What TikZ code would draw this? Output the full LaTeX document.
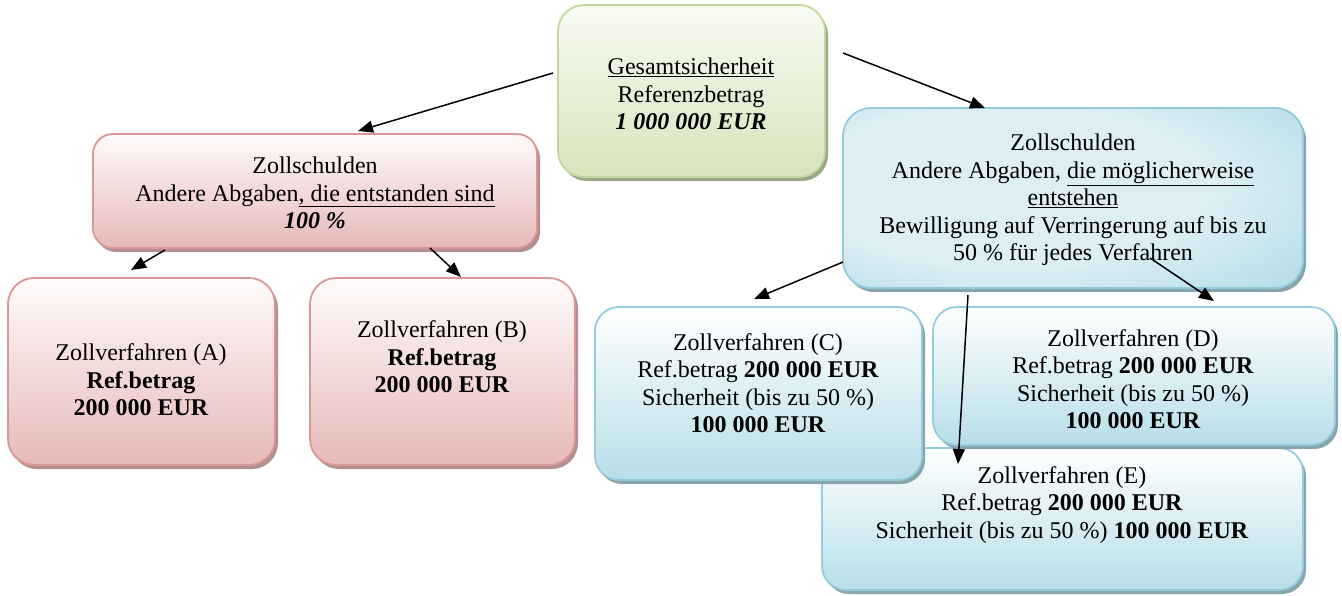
\documentclass[tikz,border=0pt]{standalone}
\usepackage{fontspec}
\setmainfont{Liberation Serif}
\usetikzlibrary{shadows,arrows.meta}
\definecolor{pinkDraw}{HTML}{D99694}
\definecolor{pinkTop}{HTML}{FFFBFB}
\definecolor{pinkBot}{HTML}{E6B9B8}
\definecolor{pinkSh}{HTML}{B09090}
\definecolor{greenDraw}{HTML}{C3D69B}
\definecolor{greenTop}{HTML}{F8FBF2}
\definecolor{greenBot}{HTML}{D7E4BD}
\definecolor{greenSh}{HTML}{9AA88A}
\definecolor{blueDraw}{HTML}{93CDDD}
\definecolor{blueIn}{HTML}{DDEFF4}
\definecolor{blueOut}{HTML}{93CDDD}
\definecolor{blueTop}{HTML}{FFFFFF}
\definecolor{blueBot}{HTML}{B7DEE8}
\definecolor{blueSh}{HTML}{8AA4AC}
\pgfdeclareradialshading{bluerad}{\pgfpoint{-10bp}{5bp}}{color(0bp)=(blueIn); color(22bp)=(blueIn); color(55bp)=(blueOut); color(80bp)=(blueOut)}
\tikzset{
  x=1pt, y=-1pt,
  box/.style={line width=1.8pt, inner sep=0pt},
  pinkbox/.style={box, draw=pinkDraw, top color=pinkTop, bottom color=pinkBot,
    rounded corners=26pt, drop shadow={shadow xshift=3pt, shadow yshift=-4pt, fill=pinkSh, opacity=1}},
  greenbox/.style={box, draw=greenDraw, top color=greenTop, bottom color=greenBot,
    rounded corners=26pt, drop shadow={shadow xshift=3pt, shadow yshift=-4pt, fill=greenSh, opacity=1}},
  bigbluebox/.style={box, draw=blueDraw, shading=bluerad,
    rounded corners=28pt, drop shadow={shadow xshift=3pt, shadow yshift=-4pt, fill=blueSh, opacity=1}},
  bluebox/.style={box, draw=blueDraw, top color=blueTop, bottom color=blueBot,
    rounded corners=24pt, drop shadow={shadow xshift=3pt, shadow yshift=-4pt, fill=blueSh, opacity=1}},
  lbl/.style={align=center, inner sep=0pt, font=\fontsize{24}{27.5}\selectfont},
  arr/.style={line width=1.5pt, -{Triangle[length=15pt,width=12pt]}},
}
\begin{document}
\begin{tikzpicture}
\useasboundingbox (0,0) rectangle (1342,595);
% top boxes
\node[greenbox, minimum width=267pt, minimum height=172pt] (g) at (691.5,91) {};
\node[lbl] (gt) at (691,94) {\underline{Gesamtsicherheit}\\Referenzbetrag\\\textbf{\textit{1 000 000 EUR}}};
\node[pinkbox, minimum width=444pt, minimum height=114pt, rounded corners=20pt] (pz) at (315,191) {};
\node[lbl] (pzt) at (315,193) {Zollschulden\\Andere Abgaben\underline{, die entstanden sind}\\\textbf{\textit{100 \%}}};
\node[bigbluebox, minimum width=460pt, minimum height=180pt] (bz) at (1073,198) {};
\node[lbl] (bzt) at (1073,200) {Zollschulden\\Andere Abgaben, \underline{die möglicherweise}\\\underline{entstehen}\\Bewilligung auf Verringerung auf bis zu\\50 \% für jedes Verfahren};
% lower pink boxes
\node[pinkbox, minimum width=267pt, minimum height=187pt] (a) at (141.5,371.5) {};
\node[lbl] (at) at (141,380) {Zollverfahren (A)\\\textbf{Ref.betrag}\\\textbf{200 000 EUR}};
\node[pinkbox, minimum width=265pt, minimum height=187pt] (b) at (442.5,371.5) {};
\node[lbl] (bt) at (442,357) {Zollverfahren (B)\\\textbf{Ref.betrag}\\\textbf{200 000 EUR}};
% lower blue boxes
\node[bluebox, minimum width=481pt, minimum height=142pt] (e) at (1062.5,519) {};
\node[lbl] (et) at (1062,505) {Zollverfahren (E)\\Ref.betrag \textbf{200 000 EUR}\\Sicherheit (bis zu 50 \%) \textbf{100 000 EUR}};
\node[bluebox, minimum width=327pt, minimum height=173pt] (c) at (758.5,393.5) {};
\node[lbl] (ct) at (758,383) {Zollverfahren (C)\\Ref.betrag \textbf{200 000 EUR}\\Sicherheit (bis zu 50 \%)\\\textbf{100 000 EUR}};
\node[bluebox, minimum width=402pt, minimum height=138pt] (d) at (1134,376) {};
\node[lbl] (dt) at (1133,379) {Zollverfahren (D)\\Ref.betrag \textbf{200 000 EUR}\\Sicherheit (bis zu 50 \%)\\\textbf{100 000 EUR}};
% connector end points
\coordinate (g1) at (553,73);
\coordinate (pzT) at (358,131);
\coordinate (g2) at (843,53);
\coordinate (bzT) at (985,108);
\coordinate (pa1) at (165,250);
\coordinate (aT) at (131,270);
\coordinate (pb1) at (430,248);
\coordinate (bT) at (461,277);
\coordinate (bc1) at (843,262);
\coordinate (cT) at (754,299);
\coordinate (bd1) at (1150,258);
\coordinate (dT) at (1214,301);
\coordinate (be1) at (968,295);
\coordinate (eT) at (958,464);
\draw[arr] (g1) -- (pzT);
\draw[arr] (g2) -- (bzT);
\draw[arr] (pa1) -- (aT);
\draw[arr] (pb1) -- (bT);
\draw[arr] (bc1) -- (cT);
\draw[arr] (bd1) -- (dT);
\draw[arr] (be1) -- (eT);
\end{tikzpicture}
\end{document}
